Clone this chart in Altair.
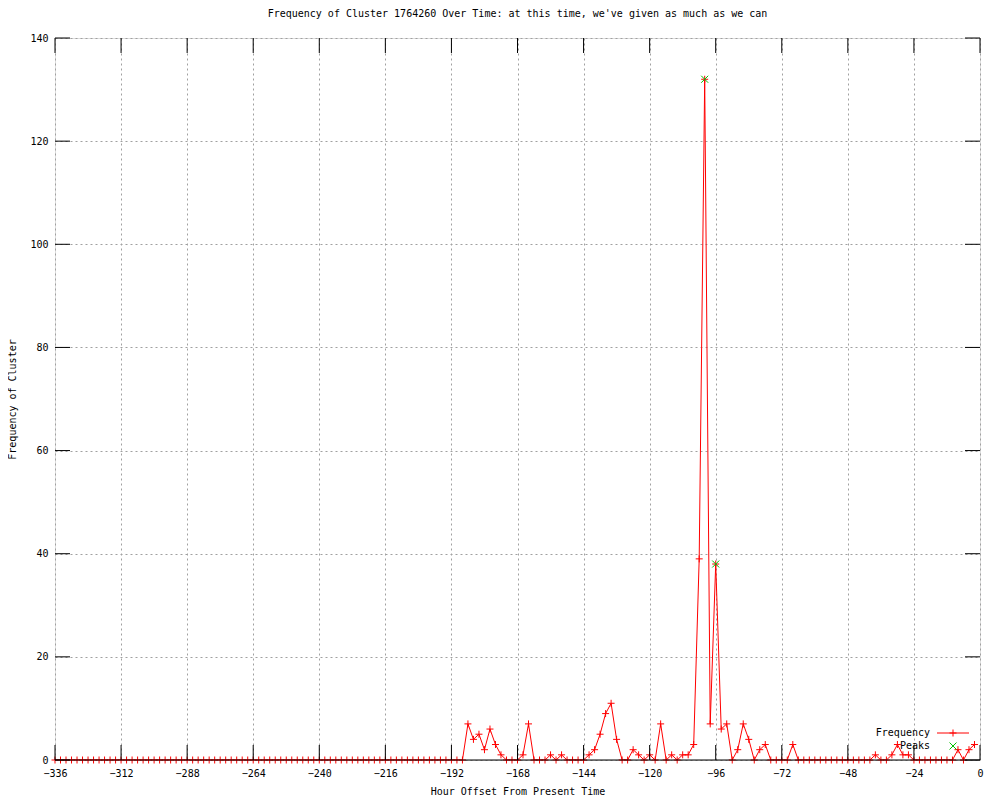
import altair as alt
import pandas as pd

# ---- data ----
hours = list(range(-336, 0, 2))
freq = [
    0, 0, 0, 0, 0, 0, 0, 0, 0, 0, 0, 0,      # -336 .. -314
    0, 0, 0, 0, 0, 0, 0, 0, 0, 0, 0, 0,      # -312 .. -290
    0, 0, 0, 0, 0, 0, 0, 0, 0, 0, 0, 0,      # -288 .. -266
    0, 0, 0, 0, 0, 0, 0, 0, 0, 0, 0, 0,      # -264 .. -242
    0, 0, 0, 0, 0, 0, 0, 0, 0, 0, 0, 0,      # -240 .. -218
    0, 0, 0, 0, 0, 0, 0, 0, 0, 0, 0, 0,      # -216 .. -194
    0, 0, 0, 7, 4, 5, 2, 6, 3, 1, 0, 0,      # -192 .. -170
    0, 1, 7, 0, 0, 0, 1, 0, 1, 0, 0, 0,      # -168 .. -146
    0, 1, 2, 5, 9, 11, 4, 0, 0, 2, 1, 0,     # -144 .. -122
    1, 0, 7, 0, 1, 0, 1, 1, 3, 39, 132, 7,   # -120 .. -98
    38, 6, 7, 0, 2, 7, 4, 0, 2, 3, 0, 0,     # -96 .. -74
    0, 0, 3, 0, 0, 0, 0, 0, 0, 0, 0, 0,      # -72 .. -50
    0, 0, 0, 0, 0, 1, 0, 0, 1, 3, 1, 1,      # -48 .. -26
    0, 0, 0, 0, 0, 0, 0, 0, 2, 0, 2, 3,      # -24 .. -2
]
peak_hours = [-100, -96]
peak_values = [132, 38]
x_ticks = [-336, -312, -288, -264, -240, -216, -192, -168, -144, -120, -96, -72, -48, -24, 0]
y_ticks = [0, 20, 40, 60, 80, 100, 120, 140]
legend_labels = ["Frequency", "Peaks"]
title_text = "Frequency of Cluster 1764260 Over Time: at this time, we've given as much as we can"

W, H = 925, 722
FONT = "DejaVu Sans Mono"
FS = 10
TICK = 15
RED = "#ff0000"
GREEN = "#00c000"
PLUS = "M-1,0L1,0M0,-1L0,1"
CROSS = "M-1,-1L1,1M-1,1L1,-1"

df = pd.DataFrame({"hour": hours, "freq": freq})
pk = pd.DataFrame({"hour": peak_hours, "freq": peak_values})
xt = pd.DataFrame({"v": x_ticks})
yt = pd.DataFrame({"v": y_ticks})
one = pd.DataFrame({"a": [0]})

xscale = alt.Scale(domain=[-336, 0], nice=False, zero=False)
yscale = alt.Scale(domain=[0, 140], nice=False)

x_axis = alt.Axis(values=x_ticks, title="Hour Offset From Present Time", grid=True,
                  gridColor="#a0a0a0", gridDash=[2, 3], gridWidth=1, ticks=False,
                  domain=False, labelFont=FONT, labelFontSize=FS, labelColor="black",
                  labelPadding=8, titleFont=FONT, titleFontSize=FS, titleFontWeight="normal",
                  titleColor="black", titlePadding=8, labelFlush=False)
y_axis = alt.Axis(values=y_ticks, title="Frequency of Cluster", grid=True,
                  gridColor="#a0a0a0", gridDash=[2, 3], gridWidth=1, ticks=False,
                  domain=False, labelFont=FONT, labelFontSize=FS, labelColor="black",
                  labelPadding=7, titleFont=FONT, titleFontSize=FS, titleFontWeight="normal",
                  titleColor="black", titlePadding=12, labelFlush=False)

line = alt.Chart(df).mark_line(color=RED, strokeWidth=1, clip=True).encode(
    x=alt.X("hour:Q", scale=xscale, axis=x_axis),
    y=alt.Y("freq:Q", scale=yscale, axis=y_axis),
)
pts = alt.Chart(df).mark_point(shape=PLUS, size=49, filled=False, color=RED,
                               strokeWidth=1, opacity=1).encode(
    x=alt.X("hour:Q", scale=xscale), y=alt.Y("freq:Q", scale=yscale))
peaks = alt.Chart(pk).mark_point(shape=CROSS, size=49, filled=False, color=GREEN,
                                 strokeWidth=1, opacity=1).encode(
    x=alt.X("hour:Q", scale=xscale), y=alt.Y("freq:Q", scale=yscale))

# inward ticks on all four sides (gnuplot style)
xt_bot = alt.Chart(xt).mark_rule(color="black", strokeWidth=1).encode(
    x=alt.X("v:Q", scale=xscale), y=alt.value(H - TICK), y2=alt.value(H))
xt_top = alt.Chart(xt).mark_rule(color="black", strokeWidth=1).encode(
    x=alt.X("v:Q", scale=xscale), y=alt.value(0), y2=alt.value(TICK))
yt_left = alt.Chart(yt).mark_rule(color="black", strokeWidth=1).encode(
    y=alt.Y("v:Q", scale=yscale), x=alt.value(0), x2=alt.value(TICK))
yt_right = alt.Chart(yt).mark_rule(color="black", strokeWidth=1).encode(
    y=alt.Y("v:Q", scale=yscale), x=alt.value(W - TICK), x2=alt.value(W))
border_bottom = alt.Chart(one).mark_rule(color="black", strokeWidth=1).encode(
    x=alt.value(0), x2=alt.value(W), y=alt.value(H))

# legend (label left, sample right)
LX, LY1, LY2 = 875, 695, 708
leg_t1 = alt.Chart(one).mark_text(align="right", baseline="middle", font=FONT, fontSize=FS,
                                  color="black").encode(
    x=alt.value(LX), y=alt.value(LY1), text=alt.value(legend_labels[0]))
leg_t2 = alt.Chart(one).mark_text(align="right", baseline="middle", font=FONT, fontSize=FS,
                                  color="black").encode(
    x=alt.value(LX), y=alt.value(LY2), text=alt.value(legend_labels[1]))
leg_line = alt.Chart(one).mark_rule(color=RED, strokeWidth=1).encode(
    x=alt.value(882), x2=alt.value(914), y=alt.value(LY1))
leg_p1 = alt.Chart(one).mark_point(shape=PLUS, size=49, filled=False, color=RED,
                                   strokeWidth=1, opacity=1).encode(
    x=alt.value(898), y=alt.value(LY1))
leg_p2 = alt.Chart(one).mark_point(shape=CROSS, size=49, filled=False, color=GREEN,
                                   strokeWidth=1, opacity=1).encode(
    x=alt.value(898), y=alt.value(LY2))

chart = alt.layer(
    line, pts, peaks, xt_bot, xt_top, yt_left, yt_right, border_bottom,
    leg_t1, leg_t2, leg_line, leg_p1, leg_p2,
).properties(
    width=W, height=H,
    title=alt.TitleParams(title_text, font=FONT, fontSize=FS, fontWeight="normal",
                          color="black", anchor="middle", offset=14),
    autosize=alt.AutoSizeParams(type="none"),
    padding={"left": 47, "top": 30, "right": 12, "bottom": 40},
).configure_view(stroke="black", strokeWidth=1).configure(background="white")

chart.save("out.html", embed_options={"renderer": "svg", "actions": False})
